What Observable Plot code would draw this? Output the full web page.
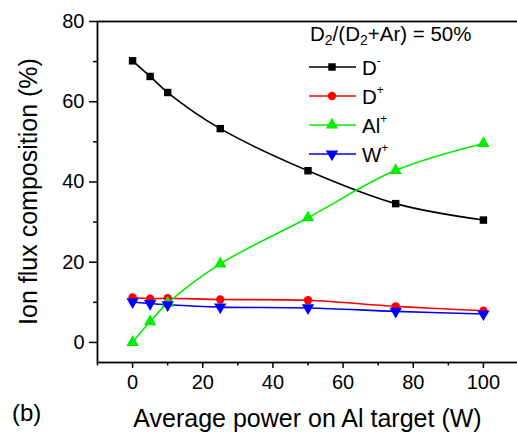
<!DOCTYPE html>
<html>
<head>
<meta charset="utf-8">
<script src="https://cdn.jsdelivr.net/npm/d3@7"></script>
<script src="https://cdn.jsdelivr.net/npm/@observablehq/plot@0.6"></script>
<style>
  html, body { margin: 0; padding: 0; background: #fff; overflow: hidden; }
  #chart { position: relative; width: 517px; height: 434px; overflow: hidden; }
  #chart svg { display: block; max-width: none !important; width: 520px; height: 434px; }
</style>
</head>
<body>
<div id="chart"></div>
<script>
// ---- data ----
const power = [0, 5, 10, 25, 50, 75, 100];
const dMinus = [70.2, 66.3, 62.3, 53.3, 42.8, 34.6, 30.5];
const dPlus  = [11.2, 10.9, 11.0, 10.7, 10.5, 9.0, 7.9];
const alPlus = [0, 5.2, 9.8, 19.6, 31.1, 42.9, 49.6];
const wPlus  = [10.1, 9.7, 9.4, 8.8, 8.6, 7.75, 7.1];

const seriesNames = ["D-", "D+", "Al+", "W+"];
const seriesBase = ["D", "D", "Al", "W"];
const seriesSup = ["-", "+", "+", "+"];
const seriesColors = ["#000000", "#ff0000", "#00ee00", "#0000ff"];
const xTicks = [0, 20, 40, 60, 80, 100];
const xMinorTicks = [-10, 10, 30, 50, 70, 90, 110];
const yTicks = [0, 20, 40, 60, 80];
const yMinorTicks = [10, 30, 50, 70];
const xLabel = "Average power on Al target (W)";
const yLabel = "Ion flux composition (%)";
const panelLabel = "(b)";

// downward triangle symbol
const sqrt3 = Math.sqrt(3);
const triangleDown = {
  draw(context, size) {
    const y = -Math.sqrt(size / (sqrt3 * 3));
    context.moveTo(0, -y * 2);
    context.lineTo(-sqrt3 * y, y);
    context.lineTo(sqrt3 * y, y);
    context.closePath();
  }
};
const symbols = [d3.symbolSquare, d3.symbolCircle, d3.symbolTriangle, triangleDown];
const values = [dMinus, dPlus, alPlus, wPlus];

const rows = [];
values.forEach((arr, s) => arr.forEach((v, i) => rows.push({series: seriesNames[s], idx: s, x: power[i], y: v})));

const FONT = "Liberation Sans, Arial, Helvetica, sans-serif";
const W = 520, H = 434, ML = 97, MR = 2, MT = 21, MB = 72;

const marks = [];
values.forEach((arr, s) => {
  const data = rows.filter(d => d.idx === s);
  marks.push(Plot.line(data, {x: "x", y: "y", stroke: seriesColors[s], strokeWidth: 1.6, curve: "catmull-rom"}));
});
values.forEach((arr, s) => {
  const data = rows.filter(d => d.idx === s);
  marks.push(Plot.dot(data, {x: "x", y: "y", fill: seriesColors[s], stroke: "none", symbol: symbols[s], r: s === 2 || s === 3 ? 4.6 : 4.2}));
});

const chart = Plot.plot({
  width: W, height: H,
  marginLeft: ML, marginRight: MR, marginTop: MT, marginBottom: MB,
  style: {fontFamily: FONT, background: "#fff", color: "#000", overflow: "visible", maxWidth: "none"},
  x: {domain: [-10, 110], label: null},
  y: {domain: [-5, 80], label: null},
  marks: [
    ...marks,
    Plot.frame({stroke: "#000", strokeWidth: 1.8}),
    Plot.axisY(yTicks, {tickSize: 8, tickPadding: 5, fontSize: 20, strokeWidth: 1.5, label: null}),
    Plot.axisY(yMinorTicks, {tickSize: 4, tickFormat: () => "", strokeWidth: 1.5, label: null}),
    Plot.axisX(xTicks, {tickSize: 6, tickPadding: 6, fontSize: 20, strokeWidth: 1.5, label: null}),
    Plot.axisX(xMinorTicks, {tickSize: 3.5, tickFormat: () => "", strokeWidth: 1.5, label: null})
  ]
});
document.getElementById("chart").appendChild(chart);

// ---- overlay texts and legend ----
const svg = d3.select(chart);
const frameCx = (ML + 518) / 2;
const frameCy = (MT + (H - MB)) / 2;

svg.append("text").attr("x", frameCx).attr("y", 427)
  .attr("text-anchor", "middle").attr("font-size", 25).attr("font-family", FONT).attr("fill", "#000")
  .text(xLabel);
svg.append("text").attr("transform", `translate(37,${frameCy}) rotate(-90)`)
  .attr("text-anchor", "middle").attr("font-size", 25).attr("font-family", FONT).attr("fill", "#000")
  .text(yLabel);
svg.append("text").attr("x", 12).attr("y", 421).attr("text-anchor", "start")
  .attr("font-size", 24).attr("font-family", FONT).attr("fill", "#000")
  .text(panelLabel);

// legend title: D2/(D2+Ar) = 50%
const title = svg.append("text").attr("x", 310).attr("y", 41).attr("text-anchor", "start")
  .attr("font-size", 20.5).attr("font-family", FONT).attr("fill", "#000");
title.append("tspan").text("D");
title.append("tspan").attr("font-size", 14).attr("dy", 4).text("2");
title.append("tspan").attr("dy", -4).text("/(D");
title.append("tspan").attr("font-size", 14).attr("dy", 4).text("2");
title.append("tspan").attr("dy", -4).text("+Ar) = 50%");

const legendY0 = 67, legendStep = 29;
seriesNames.forEach((name, s) => {
  const cy = legendY0 + s * legendStep;
  const g = svg.append("g");
  g.append("line").attr("x1", 309).attr("x2", 356).attr("y1", cy).attr("y2", cy)
    .attr("stroke", seriesColors[s]).attr("stroke-width", 1.6);
  const rr = s === 2 || s === 3 ? 4.6 : 4.2;
  g.append("path").attr("transform", `translate(332,${cy})`)
    .attr("d", d3.symbol(symbols[s], Math.PI * rr * rr)()).attr("fill", seriesColors[s]);
  const t = g.append("text").attr("x", 362).attr("y", cy + 7.5).attr("text-anchor", "start")
    .attr("font-size", 20.5).attr("font-family", FONT).attr("fill", "#000");
  t.append("tspan").text(seriesBase[s]);
  t.append("tspan").attr("font-size", 12).attr("dy", -10).text(seriesSup[s]);
});
</script>
</body>
</html>
